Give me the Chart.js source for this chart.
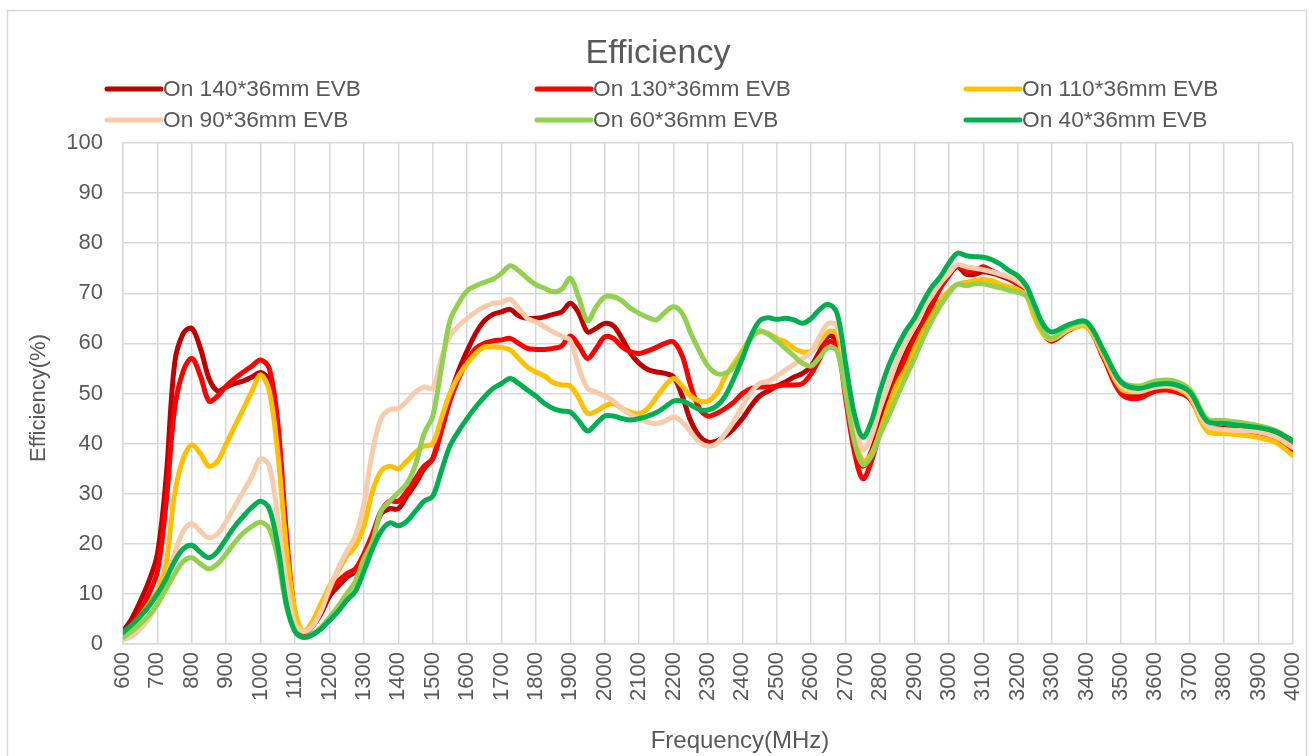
<!DOCTYPE html>
<html>
<head>
<meta charset="utf-8">
<title>Efficiency</title>
<script src="https://cdn.jsdelivr.net/npm/chart.js@4.4.1/dist/chart.umd.min.js"></script>
<style>
  html, body { margin: 0; padding: 0; background: #ffffff; }
  #chart { display: block; }
</style>
</head>
<body>
<canvas id="chart" width="1314" height="756"></canvas>
<script>
  const freq = [
    600, 625, 650, 675, 700, 725, 750, 775, 800, 825, 850, 875, 900, 925, 950, 975,
    1000, 1025, 1050, 1075, 1100, 1125, 1150, 1175, 1200, 1225, 1250, 1275, 1300, 1325, 1350, 1375,
    1400, 1425, 1450, 1475, 1500,
    1525, 1550, 1575, 1600, 1625, 1650, 1675, 1700, 1725, 1750, 1775, 1800, 1825, 1850, 1875,
    1900, 1925, 1950, 1975, 2000, 2025, 2050, 2075, 2100, 2125, 2150, 2175, 2200, 2225, 2250, 2275,
    2300, 2325, 2350, 2375, 2400,
    2425, 2450, 2475, 2500, 2525, 2550, 2575, 2600, 2625, 2650, 2675, 2700, 2725, 2750, 2775,
    2800, 2825, 2850, 2875, 2900, 2925, 2950, 2975, 3000, 3025, 3050, 3075, 3100, 3125, 3150, 3175,
    3200, 3225, 3250, 3275, 3300,
    3350, 3400, 3450, 3500, 3550, 3600, 3650, 3700, 3750, 3800, 3850, 3900, 3950, 4000
  ];

  // Efficiency (%) per board size
  const eff140 = [
    2.5, 5, 8.5, 12.5, 18, 33, 56, 62, 63, 59, 53, 50.5, 51.3, 52, 52.5, 53.3,
    54.2, 52.5, 40, 20, 5, 2, 3.5, 6, 9.5, 11.5, 13.3, 14.5, 17.5, 21.5, 26, 27,
    27, 29.5, 32, 35, 37,
    43, 49.5, 54.5, 58.5, 62, 64.5, 65.8, 66.3, 66.8, 65.5, 65, 65, 65.3, 65.8, 66.3,
    68, 66, 62.3, 63, 64, 63.5, 61, 58, 56, 54.8, 54.3, 54, 53.3, 49.5, 44.5, 41.5,
    40.3, 40.5, 41.5, 43, 45,
    47.5, 49.5, 50.5, 51.5, 52.3, 53.3, 54, 55.5, 58.5, 61.5, 60.5, 50, 40, 35.5, 38.5,
    44, 49.5, 54, 58, 61.3, 64.3, 68, 71.3, 73.8, 75.3, 73.8, 73.8, 74.3, 74, 73.5, 72.8,
    71.8, 70.3, 66, 62, 60.5,
    63, 63.5, 57.3, 50.5, 49.8, 50.8, 50.8, 49.3, 43.3, 43, 42.8, 42.5, 41.5, 39.5
  ];
  const eff130 = [
    2.3, 3.8, 6.5, 10, 14.5, 28, 47, 54.5, 57, 53.5, 48.5, 49.5, 51.5, 53, 54.3, 55.5,
    56.7, 55, 44, 22, 6, 2.3, 3.5, 6.5, 10.5, 12.5, 14, 15, 18, 22, 26.5, 28.5,
    28.5, 30.5, 33, 35.5, 37,
    42.5, 48.5, 53, 56.5, 59, 60, 60.5, 60.7, 61, 60, 59, 58.8, 58.8, 59, 59.5,
    61.5, 59.5, 57, 59, 61.3, 61, 59.3, 58.3, 58, 58.5, 59.2, 60, 60.3, 57.5, 51.5, 47,
    45.5, 46, 47, 48.3, 50,
    51, 51.3, 51.3, 51.5, 51.7, 51.7, 52, 54, 57, 60.3, 59.5, 49, 38.5, 33, 36.5,
    42.5, 48, 53, 57.3, 60.7, 63.8, 67.5, 71, 73.5, 75.5, 74.5, 74.5, 75.3, 74.5, 73.7, 73,
    72, 70.5, 66, 62, 60.5,
    62.7, 63.5, 57, 50, 49, 50.5, 50.5, 49, 43, 42.8, 42.5, 42.2, 41, 38.8
  ];
  const eff110 = [
    2, 3.5, 5.5, 8, 10.5, 16, 30, 37, 39.7, 38, 35.5, 36.5, 40, 43.5, 47, 50.5,
    53.7, 50.5, 38, 19, 6.5, 2.5, 4.5, 8, 11.5, 14.5, 17.5, 19.5, 23.5, 30.5, 34.5, 35.5,
    35, 36.5, 38.3, 39.5, 40,
    45, 50, 53.5, 56, 58, 59.3, 59.3, 59.2, 58.7, 57, 55.3, 54.3, 53.5, 52.2, 51.7,
    51.5, 49, 46, 46.5, 47.5, 48, 47, 46.3, 46, 47, 49.3, 51.5, 53, 51.5, 49.5, 48.5,
    48.5, 50, 53.3, 56, 58.5,
    61.3, 62.3, 62, 61, 60.3, 59, 58.3, 58.5, 60.3, 62.3, 62, 52, 42, 36.5, 38,
    42.5, 47.5, 52, 55, 59, 62.5, 65.5, 68.5, 70.5, 71.8, 72.2, 72.5, 72.8, 72.5, 71.8, 71.3,
    70.8, 69.5, 65, 61.8, 60.8,
    62.8, 63.3, 57.5, 51, 50.3, 51.3, 51.3, 49.3, 42.5, 42, 41.7, 41.2, 40.2, 37.6
  ];
  const eff90 = [
    0.8, 1.5, 3, 5, 8, 12.5, 18, 22.5, 24, 22.5, 21.2, 22, 24.5, 27.5, 30.5, 33.5,
    37, 35.5, 25, 12, 4, 2.5, 3.5, 6.5, 11, 15, 18.5, 21.5, 28, 38.5, 45, 46.8,
    47, 48.5, 50.3, 51.3, 51,
    57, 61.5, 63.5, 65, 66.3, 67.3, 68, 68.2, 68.8, 67, 65, 64.3, 63.3, 62.3, 61.5,
    60.5, 55, 51, 50.3, 49.5, 48.5, 47, 45.8, 45, 44.3, 44, 44.5, 45.3, 44.3, 42.3, 40.3,
    39.5, 40, 42, 44.5, 47.5,
    50.3, 52, 52.5, 53.5, 54.7, 55.8, 57, 58.3, 61.5, 64, 63.5, 55, 45, 38.8, 41.5,
    47, 51.8, 56.5, 60.3, 63.5, 66.8, 69.5, 72, 74, 75.7, 75.3, 75, 74.7, 74.3, 73.8, 73.2,
    72.3, 71, 66.5, 62.5, 61,
    63.2, 63.8, 58, 51.6, 50.5, 51.3, 51.5, 49.8, 43.5, 42.8, 42.6, 42.3, 41.3, 39.2
  ];
  const eff60 = [
    1.3, 2.5, 4, 5.7, 8, 11, 14, 16.5, 17.2, 16, 15, 16, 18, 20.3, 22.2, 23.5,
    24.3, 23, 17, 7.5, 2.5, 1.3, 2, 3.3, 5.3, 7.5, 10, 12.5, 17, 20.5, 26.5, 28.5,
    30.2, 32, 35.8, 42, 45.5,
    55, 64.5, 68, 70.5, 71.5, 72.2, 72.8, 74, 75.5, 74.5, 73, 71.7, 71, 70.3, 70.8,
    73, 69, 64.5, 67.3, 69.3, 69.3, 68.5, 67, 66, 65.2, 64.7, 66.2, 67.3, 66, 62, 58.5,
    55.5, 54, 54, 55.3, 58,
    61, 62.5, 61.8, 60.5, 59, 57.5, 56, 55.5, 57.3, 59.2, 58.5, 50, 40.5, 35.8, 37.5,
    41.8, 45.5, 49.5, 53.3, 57, 61, 64.5, 67.5, 70, 71.8, 71.5, 71.9, 71.9, 71.5, 71.1, 70.6,
    70.2, 69.5, 66.3, 62.3, 61,
    63.5, 64, 58.3, 52.5, 51.5, 52.5, 52.6, 50.8, 45, 44.6, 44.2, 43.6, 42.6, 40.5
  ];
  const eff40 = [
    2.3, 3.8, 5.5, 7.5, 10, 13, 16.5, 19, 19.7, 18.3, 17.2, 18.5, 21, 23.5, 25.5, 27.3,
    28.5, 27, 19.5, 8, 2.5, 1.3, 1.8, 3, 4.7, 6.5, 8.7, 10.5, 14.5, 19, 22.5, 24.2,
    23.6, 24.5, 26.5, 28.5, 29.5,
    34.5, 39.5, 42.5, 45, 47.3, 49.3, 51, 52, 53, 52, 50.7, 49.5, 48, 47, 46.5,
    46.3, 44.5, 42.5, 44, 45.5, 45.5, 45, 44.7, 45, 45.5, 46.2, 47.3, 48.5, 48.5, 47.7, 46.8,
    46.7, 47.5, 49.5, 53, 57,
    61.5, 64.5, 65.1, 64.8, 65, 64.7, 64, 65, 66.8, 67.8, 66, 56, 46, 41.3, 44.5,
    50.5, 55.5, 59.3, 62.5, 65, 68.3, 71.2, 73.3, 76, 78, 77.5, 77.3, 77.2, 76.7, 75.8, 74.5,
    73.5, 71.5, 67.5, 63.7, 62.3,
    63.8, 64.3, 58.5, 52.3, 51, 51.8, 51.9, 50.3, 44.5, 44, 43.6, 43.2, 42.4, 40.6
  ];

  const seriesNames = ["On 140*36mm EVB", "On 130*36mm EVB", "On 110*36mm EVB",
                       "On 90*36mm EVB", "On 60*36mm EVB", "On 40*36mm EVB"];
  const seriesValues = [eff140, eff130, eff110, eff90, eff60, eff40];
  const seriesColors = ["#C00000", "#FF0000", "#FFC000", "#F8CBAD", "#92D050", "#00B050"];

  const textColor = "#595959";
  const gridColor = "#d9d9d9";
  const fontFamily = "'Liberation Sans', Arial, sans-serif";

  // build the datasets, last series drawn on top like in Excel
  const datasets = seriesValues.map((vals, i) => ({
    label: seriesNames[i],
    data: vals.map((v, k) => ({ x: freq[k], y: v })),
    borderColor: seriesColors[i],
    backgroundColor: seriesColors[i],
    borderWidth: 5,
    borderCapStyle: "round",
    borderJoinStyle: "round",
    pointRadius: 0,
    tension: 0.35,
    fill: false,
    order: seriesValues.length - i
  }));

  // title, legend, axis titles and outer frame
  const decor = {
    id: "decor",
    beforeDraw(chart) {
      const ctx = chart.ctx;
      ctx.save();
      ctx.fillStyle = "#ffffff";
      ctx.fillRect(0, 0, chart.width, chart.height);
      ctx.strokeStyle = gridColor;
      ctx.lineWidth = 1.5;
      ctx.strokeRect(7.5, 10.5, 1299, 800);
      ctx.restore();
    },
    afterDraw(chart) {
      const ctx = chart.ctx;
      ctx.save();
      ctx.fillStyle = textColor;
      ctx.textBaseline = "middle";

      ctx.font = "34px " + fontFamily;
      ctx.textAlign = "center";
      ctx.fillText("Efficiency", 658, 54);

      // legend: 3 columns x 2 rows
      const colX = [105, 535, 964];
      const rowY = [89, 120];
      ctx.font = "22.7px " + fontFamily;
      ctx.textAlign = "left";
      chart.data.datasets.forEach((ds, i) => {
        const x = colX[i % 3];
        const y = rowY[Math.floor(i / 3)];
        ctx.strokeStyle = ds.borderColor;
        ctx.lineWidth = 5;
        ctx.lineCap = "round";
        ctx.beginPath();
        ctx.moveTo(x + 2, y);
        ctx.lineTo(x + 56, y);
        ctx.stroke();
        ctx.fillStyle = textColor;
        ctx.fillText(ds.label, x + 58, y + 1);
      });

      // axis titles
      ctx.font = "24px " + fontFamily;
      ctx.textAlign = "center";
      ctx.fillText("Frequency(MHz)", 740, 741);

      ctx.font = "22px " + fontFamily;
      ctx.translate(39, 398);
      ctx.rotate(-Math.PI / 2);
      ctx.fillText("Efficiency(%)", 0, 0);
      ctx.restore();
    }
  };

  new Chart(document.getElementById("chart"), {
    type: "line",
    data: { datasets },
    plugins: [decor],
    options: {
      responsive: false,
      animation: false,
      layout: { padding: { top: 143, right: 21, bottom: 0, left: 0 } },
      plugins: {
        legend: { display: false },
        title: { display: false },
        tooltip: { enabled: false }
      },
      scales: {
        x: {
          type: "linear",
          min: 600,
          max: 4000,
          ticks: {
            stepSize: 100,
            autoSkip: false,
            minRotation: 90,
            maxRotation: 90,
            padding: 8,
            color: textColor,
            font: { family: fontFamily, size: 22 },
            callback: (v) => String(v)
          },
          grid: { color: gridColor, lineWidth: 1.5, drawTicks: false },
          border: { color: gridColor, width: 1.5 },
          afterFit(scale) {
            scale.height = 112;
            scale.paddingLeft = 0;
            scale.paddingRight = 0;
          }
        },
        y: {
          min: 0,
          max: 100,
          ticks: {
            stepSize: 10,
            padding: 20,
            color: textColor,
            font: { family: fontFamily, size: 22 }
          },
          grid: { color: gridColor, lineWidth: 1.5, drawTicks: false },
          border: { color: gridColor, width: 1.5 },
          afterFit(scale) {
            scale.width = 123;
            scale.paddingTop = 0;
            scale.paddingBottom = 0;
          }
        }
      }
    }
  });
</script>
</body>
</html>
